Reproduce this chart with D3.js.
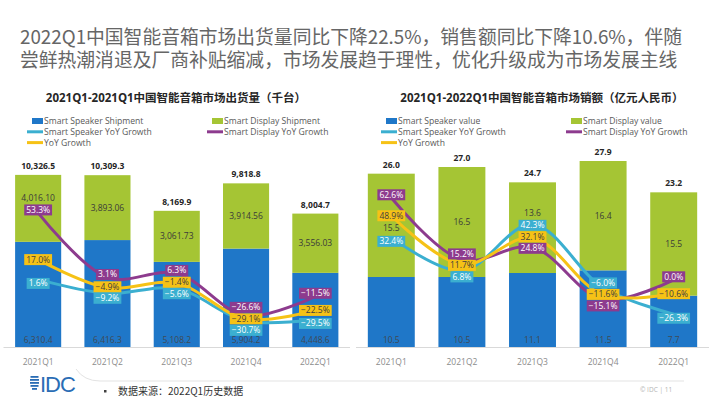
<!DOCTYPE html>
<html><head>
<meta charset="utf-8">
<script src="https://d3js.org/d3.v7.min.js"></script>
<style>
  body { margin: 0; background: #fff; }
  text { font-family: "Open Sans", "Noto Sans CJK SC", sans-serif; }
</style>
</head>
<body>
<svg id="slide" width="710" height="399"></svg>
<script>
// data
const quarters = ["2021Q1", "2021Q2", "2021Q3", "2021Q4", "2022Q1"];

const shipSpeaker = [6310.4, 6416.3, 5108.2, 5904.2, 4448.6];
const shipDisplay = [4016.10, 3893.06, 3061.73, 3914.56, 3556.03];
const shipTotal = [10326.5, 10309.3, 8169.9, 9818.8, 8004.7];
const shipSpeakerYoY = [1.6, -9.2, -5.6, -30.7, -29.5];
const shipDisplayYoY = [53.3, 3.1, 6.3, -26.6, -11.5];
const shipYoY = [17.0, -4.9, -1.4, -29.1, -22.5];

const valSpeaker = [10.5, 10.5, 11.1, 11.5, 7.7];
const valDisplay = [15.5, 16.5, 13.6, 16.4, 15.5];
const valTotal = [26.0, 27.0, 24.7, 27.9, 23.2];
const valSpeakerYoY = [32.4, 6.8, 42.3, -6.0, -26.3];
const valDisplayYoY = [62.6, 15.2, 24.8, -15.1, 0.0];
const valYoY = [48.9, 11.7, 32.1, -11.6, -10.6];

const blue = "#1f77c8", green = "#a5c534", cyan = "#3bafd0", purple = "#8d3b8e", yellow = "#f6c216";

let svg = d3.select("#slide");

// headline
svg.append("text").attr("x", 20).attr("y", 43.5)
  .style("font-family", "'Noto Sans CJK SC', sans-serif").style("font-size", "18.8px").style("fill", "#666")
  .text("2022Q1中国智能音箱市场出货量同比下降22.5%，销售额同比下降10.6%，伴随");
svg.append("text").attr("x", 20).attr("y", 67)
  .style("font-family", "'Noto Sans CJK SC', sans-serif").style("font-size", "18.8px").style("fill", "#666")
  .text("尝鲜热潮消退及厂商补贴缩减，市场发展趋于理性，优化升级成为市场发展主线");

function drawChart(cfg) {
  let g = svg.append("g");
  let x = d3.scaleBand().domain(quarters).range(cfg.xRange).paddingInner(0.335).paddingOuter(0.1675);
  let y = d3.scaleLinear().domain(cfg.yDomain).range([347, 147]);
  let y2 = d3.scaleLinear().domain(cfg.y2Domain).range(cfg.y2Range);
  let cx = q => x(q) + x.bandwidth() / 2;

  // title
  g.append("text").attr("x", cfg.titleX).attr("y", 102).attr("text-anchor", "middle")
    .style("font-size", "11.5px").style("font-weight", "bold").style("fill", "#262626")
    .text(cfg.title);

  // legend
  let legend = [
    {name: cfg.names[0], color: blue, kind: "rect", col: 0, row: 0},
    {name: cfg.names[1], color: green, kind: "rect", col: 1, row: 0},
    {name: cfg.names[2], color: cyan, kind: "line", col: 0, row: 1},
    {name: cfg.names[3], color: purple, kind: "line", col: 1, row: 1},
    {name: cfg.names[4], color: yellow, kind: "line", col: 0, row: 2}
  ];
  legend.forEach(function(d) {
    let tx = cfg.legendX[d.col], ty = 121 + d.row * 10.8;
    if (d.kind === "rect") {
      g.append("rect").attr("x", tx - 12).attr("y", ty - 3).attr("width", 11).attr("height", 6).style("fill", d.color);
    } else {
      g.append("line").attr("x1", tx - 17).attr("x2", tx - 1).attr("y1", ty).attr("y2", ty)
        .style("stroke", d.color).style("stroke-width", 3);
    }
    g.append("text").attr("x", tx).attr("y", ty + 3).style("font-size", "8.6px").style("fill", "#595959").text(d.name);
  });

  // baseline
  g.append("line").attr("x1", cfg.xRange[0]).attr("x2", cfg.xRange[1]).attr("y1", 347.5).attr("y2", 347.5)
    .style("stroke", "#d9d9d9").style("stroke-width", 1);

  // stacked bars
  quarters.forEach(function(q, i) {
    g.append("rect").attr("x", x(q)).attr("width", x.bandwidth())
      .attr("y", y(cfg.speaker[i])).attr("height", y(0) - y(cfg.speaker[i])).style("fill", blue);
    g.append("rect").attr("x", x(q)).attr("width", x.bandwidth())
      .attr("y", y(cfg.speaker[i] + cfg.display[i])).attr("height", y(0) - y(cfg.display[i])).style("fill", green);
  });

  // line series and their label positions
  let series = [
    {vals: cfg.speakerYoY, color: cyan, textColor: "#fff", nudge: 4},
    {vals: cfg.displayYoY, color: purple, textColor: "#fff", nudge: -3},
    {vals: cfg.yoy, color: yellow, textColor: "#404040", nudge: 0}
  ];
  let minGap = 11.5;
  let labelsAt = quarters.map(function(q, i) {
    let items = series.map(s => ({s: s, v: s.vals[i], ly: y2(s.vals[i]) + s.nudge}));
    items.sort((a, b) => a.ly - b.ly);
    for (let k = 0; k < 60; k++) {
      for (let j = 1; j < items.length; j++) {
        let gap = items[j].ly - items[j - 1].ly;
        if (gap < minGap) {
          let push = (minGap - gap) / 2;
          items[j].ly += push;
          items[j - 1].ly -= push;
        }
      }
    }
    return items;
  });

  // segment labels, moved off the line labels when they would collide
  let fmtMain = d3.format(cfg.fmtDisplay), fmtBase = d3.format(cfg.fmtSpeaker);
  quarters.forEach(function(q, i) {
    let top = y(cfg.speaker[i] + cfg.display[i]), bottom = y(cfg.speaker[i]);
    let center = (top + bottom) / 2, best = center, bestDist = Infinity;
    for (let c = top + 7; c <= bottom - 7; c += 0.5) {
      let free = labelsAt[i].every(l => Math.abs(c - l.ly) >= 12);
      if (free && Math.abs(c - center) < bestDist) { bestDist = Math.abs(c - center); best = c; }
    }
    g.append("text").attr("x", cx(q)).attr("y", best + 3).attr("text-anchor", "middle")
      .style("font-size", "8.5px").style("fill", "#3a3a3a").text(fmtMain(cfg.display[i]));
    g.append("text").attr("x", cx(q)).attr("y", 343).attr("text-anchor", "middle")
      .style("font-size", "8.5px").style("fill", "#404a55").text(fmtBase(cfg.speaker[i]));
    g.append("text").attr("x", cx(q)).attr("y", top - 6).attr("text-anchor", "middle")
      .style("font-size", "8.5px").style("font-weight", "bold").style("fill", "#262626")
      .text(d3.format(",.1f")(cfg.total[i]));
    // category label
    g.append("text").attr("x", cx(q)).attr("y", 365).attr("text-anchor", "middle")
      .style("font-size", "8.5px").style("fill", "#8c8c8c").text(q);
  });

  let line = d3.line().x(d => cx(d.q)).y(d => y2(d.v)).curve(d3.curveCatmullRom);
  series.forEach(function(s) {
    g.append("path").datum(quarters.map((q, i) => ({q: q, v: s.vals[i]})))
      .attr("d", line).style("fill", "none").style("stroke", s.color).style("stroke-width", 3);
  });

  labelsAt.forEach(function(items, i) {
    items.forEach(function(l) {
      let t = g.append("text").attr("x", cx(quarters[i])).attr("y", l.ly + 3).attr("text-anchor", "middle")
        .style("font-size", "8.5px").style("fill", l.s.textColor).text(d3.format(".1f")(l.v) + "%");
      let w = t.node().getComputedTextLength();
      g.insert("rect", () => t.node())
        .attr("x", cx(quarters[i]) - w / 2 - 2).attr("y", l.ly - 5.5).attr("width", w + 4).attr("height", 11)
        .style("fill", l.s.color);
    });
  });
}

drawChart({
  xRange: [3.5, 350], yDomain: [0, 12000], y2Domain: [-50, 60], y2Range: [345.8, 204.3],
  title: "2021Q1-2021Q1中国智能音箱市场出货量（千台）", titleX: 176,
  names: ["Smart Speaker Shipment", "Smart Display Shipment", "Smart Speaker YoY Growth", "Smart Display YoY Growth", "YoY Growth"],
  legendX: [44, 224],
  speaker: shipSpeaker, display: shipDisplay, total: shipTotal,
  speakerYoY: shipSpeakerYoY, displayYoY: shipDisplayYoY, yoy: shipYoY,
  fmtDisplay: ",.2f", fmtSpeaker: ",.1f"
});

drawChart({
  xRange: [356, 709], yDomain: [0, 30], y2Domain: [-50, 70], y2Range: [345.3, 188.1],
  title: "2021Q1-2022Q1中国智能音箱市场销额（亿元人民币）", titleX: 542,
  names: ["Smart Speaker value", "Smart Display value", "Smart Speaker YoY Growth", "Smart Display YoY Growth", "YoY Growth"],
  legendX: [398, 583],
  speaker: valSpeaker, display: valDisplay, total: valTotal,
  speakerYoY: valSpeakerYoY, displayYoY: valDisplayYoY, yoy: valYoY,
  fmtDisplay: ".1f", fmtSpeaker: ".1f"
});

// footer
let foot = svg.append("g");
foot.append("path").attr("d", "M76,369 Q84,381 100,381 L684,381")
  .style("fill", "none").style("stroke", "#e3e3e3").style("stroke-width", 1);
[[-2, 4], [-5, 7], [-8, 8], [-11, 8], [-14, 7]].forEach(function(r) {
  foot.append("rect").attr("x", 30 + (8 - r[1]) / 2).attr("y", 391 + r[0] - 1).attr("width", r[1] + 1).attr("height", 1.8)
    .style("fill", "#2a6db5");
});
foot.append("text").attr("x", 40).attr("y", 392).style("font-size", "22px").style("fill", "#2a6db5")
  .style("font-family", "'Liberation Sans', Arial, sans-serif").style("letter-spacing", "-1px").text("IDC");
foot.append("rect").attr("x", 104).attr("y", 390).attr("width", 2.5).attr("height", 2.5).style("fill", "#404040");
foot.append("text").attr("x", 118).attr("y", 395).style("font-size", "10px").style("fill", "#333")
  .style("font-family", "'Noto Sans CJK SC', sans-serif").text("数据来源：2022Q1历史数据");
foot.append("text").attr("x", 640).attr("y", 392).style("font-size", "6.5px").style("fill", "#b5b5b5").text("© IDC |  11");
</script>
</body></html>
